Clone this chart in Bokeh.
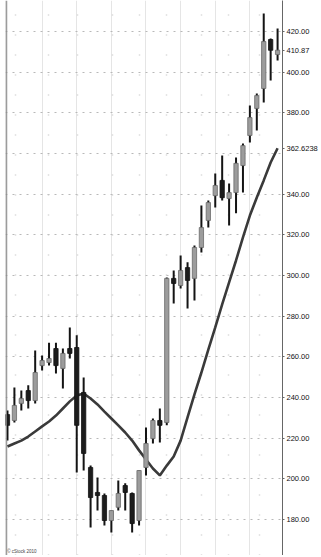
from bokeh.plotting import figure
from bokeh.models import FixedTicker, NumeralTickFormatter, Range1d, Label, Grid, Span, ColumnDataSource
from bokeh.embed import file_html
from bokeh.resources import INLINE

opens  = [231.6,228.7,237.1,243.4,238.5,255.7,257.2,264.1,254.3,264.1,264.6,242.5,205.6,193.3,191.8,179.5,186.0,196.7,192.8,179.5,
          205.6,219.8,228.7,227.7,298.6,295.1,303.9,298.6,313.8,327.1,339.3,346.8,337.9,340.8,354.1,368.9,382.2,392.0,416.1,408.7]
highs  = [233.6,244.9,243.4,246.0,263.1,260.7,267.0,267.0,264.1,274.5,270.6,249.9,206.5,200.7,192.8,184.4,199.2,197.8,193.3,204.1,
          225.3,229.7,234.6,299.0,302.5,309.9,306.5,314.8,334.5,336.9,350.2,359.1,345.3,358.1,364.9,383.7,389.6,428.9,416.6,421.5]
lows   = [218.8,227.7,233.6,234.6,237.1,253.3,255.7,251.8,244.4,259.2,203.1,204.1,176.1,184.4,177.1,173.6,184.4,184.4,173.6,177.1,
          201.7,217.4,217.9,226.3,286.3,293.6,283.8,287.7,311.3,323.6,333.5,336.9,324.6,330.6,340.8,365.4,371.4,385.1,395.9,405.8]
closes = [226.3,236.1,239.5,238.5,252.3,258.2,259.2,255.7,261.7,261.7,226.3,212.5,190.8,191.8,179.5,184.4,192.8,193.3,178.0,204.1,
          217.4,228.7,226.3,298.6,296.1,302.5,297.6,313.8,323.6,335.9,344.3,338.3,340.8,355.2,363.9,377.7,388.5,415.1,410.8,410.87]
ma     = [215.9,217.4,218.8,220.8,223.3,225.8,228.2,231.1,234.6,238.1,241.0,242.0,239.5,236.6,233.1,229.7,226.3,222.8,218.8,214.0,
          209.5,205.1,201.7,206.5,211.0,218.8,230.2,241.5,252.3,263.6,274.5,285.8,296.6,307.4,318.8,329.5,338.4,346.8,355.6,362.62]
y_ticks = [180, 200, 220, 240, 260, 280, 300, 320, 340, 380, 400, 420]
week_ticks = [1.14, 5.86, 10.14, 15.14, 19, 23, 28, 31.86, 36.43]
last_value = 410.87
last_label = "410.87"
ma_label = "362.6238"

idx = list(range(len(opens)))
up = [c >= o for o, c in zip(opens, closes)]
src = ColumnDataSource(dict(
    x=idx, top=[max(o, c) for o, c in zip(opens, closes)],
    bottom=[min(o, c) for o, c in zip(opens, closes)],
    high=highs, low=lows,
    fill=["#9c9c9c" if u else "#1c1c1c" for u in up],
    edge=["#6a6a6a" if u else "#111111" for u in up],
))

p = figure(width=320, height=555, output_backend="svg", toolbar_location=None,
           x_range=Range1d(-0.286, 39.71), y_range=Range1d(162.29, 435.29),
           x_axis_location=None, y_axis_location="right",
           min_border_left=5, min_border_top=0, min_border_bottom=0, min_border_right=35)
p.outline_line_color = None
p.background_fill_color = "white"
p.border_fill_color = "white"

ax = p.yaxis[0]
ax.ticker = FixedTicker(ticks=y_ticks + [last_value, ma[-1]])
ax.formatter = NumeralTickFormatter(format="0.00")
ax.major_label_overrides = {last_value: last_label, ma[-1]: ma_label}
ax.major_label_text_font = "Liberation Sans"
ax.major_label_text_font_size = "7.5px"
ax.major_label_text_color = "#111111"
ax.major_label_standoff = 2
ax.major_tick_out = 2
ax.major_tick_in = 0
ax.minor_tick_out = 0
ax.minor_tick_in = 0
ax.axis_line_color = "#666666"
ax.major_tick_line_color = "#666666"

p.ygrid.ticker = FixedTicker(ticks=y_ticks + [360])
p.ygrid.grid_line_color = "#b8b8b8"
p.ygrid.grid_line_dash = "2 5"
p.ygrid.grid_line_width = 1

vg = Grid(dimension=0, ticker=FixedTicker(ticks=week_ticks),
          grid_line_color="#cccccc", grid_line_dash="1 19", grid_line_width=1.5)
p.add_layout(vg)

p.add_layout(Span(location=-0.2, dimension="height", line_color="#8a8a8a", line_width=1.5))

p.line(idx, ma, line_color="#3a3a3a", line_width=2.6)
p.segment(x0="x", x1="x", y0="low", y1="high", source=src, line_color="#141414", line_width=2)
p.vbar(x="x", top="top", bottom="bottom", width=0.62, source=src,
       fill_color="fill", line_color="edge", line_width=0.8)

p.add_layout(Label(x=-0.05, y=163.2, text="© cStock 2010", text_baseline="bottom",
                   text_font="Liberation Sans", text_font_size="4.5px", text_color="#444444"))

open("out.html", "w").write(file_html(p, INLINE))
